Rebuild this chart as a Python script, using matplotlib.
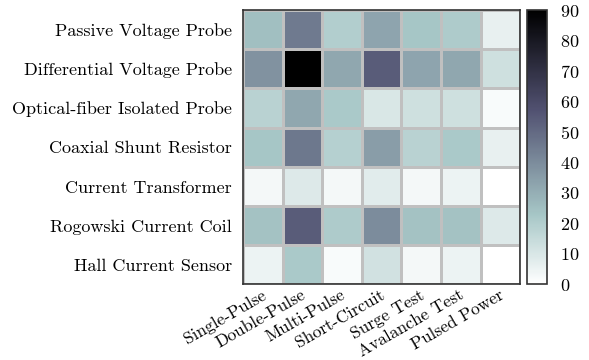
import numpy as np
import matplotlib
matplotlib.use("Agg")
import matplotlib.pyplot as plt
from matplotlib.transforms import ScaledTranslation

plt.rcParams['font.family'] = ['cmr10', 'DejaVu Serif']
plt.rcParams['mathtext.fontset'] = 'cm'
plt.rcParams['axes.formatter.use_mathtext'] = True

probes = ["Passive Voltage Probe", "Differential Voltage Probe",
          "Optical-fiber Isolated Probe", "Coaxial Shunt Resistor",
          "Current Transformer", "Rogowski Current Coil", "Hall Current Sensor"]
tests = ["Single-Pulse", "Double-Pulse", "Multi-Pulse", "Short-Circuit",
         "Surge Test", "Avalanche Test", "Pulsed Power"]

passive = [25, 45, 20, 33, 23, 21, 6]
differential = [38, 90, 32, 54, 33, 32, 13]
optical = [18, 32, 22, 10, 13, 13, 2]
coaxial = [23, 46, 19, 35, 18, 22, 6]
transformer = [3, 9, 3, 8, 3, 5, 0]
rogowski = [24, 54, 21, 40, 24, 24, 9]
hall = [5, 22, 2, 12, 3, 5, 0]

Z = np.array([passive, differential, optical, coaxial, transformer, rogowski, hall])

fig = plt.figure(figsize=(5.89, 3.6), dpi=100)
ax = fig.add_axes([0.413, 0.21, 0.47, 0.762])
cax = fig.add_axes([0.895, 0.21, 0.033, 0.762])

mesh = ax.pcolormesh(Z, cmap='bone_r', vmin=0, vmax=90,
                     edgecolors='#c0c0c0', linewidth=0.8)
ax.set_xlim(0, Z.shape[1])
ax.set_ylim(Z.shape[0], 0)
ax.set_xticks(np.arange(len(tests)) + 0.5)
ax.set_xticklabels(tests, rotation=30, ha='right', fontsize=12.5)
ax.set_yticks(np.arange(len(probes)) + 0.5)
ax.set_yticklabels(probes, fontsize=13)
ax.tick_params(length=0, pad=8)
ax.tick_params(axis='x', pad=2)
# labels sit a little right of the cell centres in the original
shift = ScaledTranslation(6 / 100, 0, fig.dpi_scale_trans)
for lbl in ax.get_xticklabels():
    lbl.set_transform(lbl.get_transform() + shift)
for s in ax.spines.values():
    s.set_color('#333333')
    s.set_linewidth(1.2)

cb = fig.colorbar(mesh, cax=cax, ticks=range(0, 91, 10))
cb.ax.tick_params(labelsize=13, length=0, pad=10)
cb.outline.set_edgecolor('#333333')
cb.outline.set_linewidth(1.2)

fig.savefig("out.png", dpi=100)
